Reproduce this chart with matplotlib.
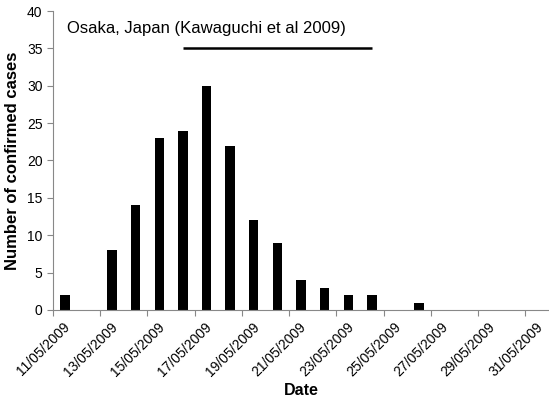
import numpy as np
import matplotlib
matplotlib.use("Agg")
import matplotlib.pyplot as plt
import matplotlib.transforms as mtransforms

plt.rcParams['font.family'] = ['Liberation Sans', 'DejaVu Sans']

# one bar per day, 11/05/2009 .. 31/05/2009
days = ["%02d/05/2009" % d for d in range(11, 32)]
cases = [2, 0, 8, 14, 23, 24, 30, 22, 12, 9, 4, 3, 2, 2, 0, 1, 0, 0, 0, 0, 0]
tick_labels = days[::2]
line_start, line_end, line_level = "16/05/2009", "24/05/2009", 35
title = "Osaka, Japan (Kawaguchi et al 2009)"

fig = plt.figure(figsize=(5.49, 4.03), dpi=100)
ax = fig.add_axes([0.0965, 0.2308, 0.9035, 0.7419])

x = np.arange(len(days)) + 0.5
ax.bar(x, cases, width=0.4, color="black")

i0 = days.index(line_start) + 0.5
i1 = days.index(line_end) + 0.5
ax.plot([i0, i1], [line_level, line_level], color="black", lw=1.8, solid_capstyle="butt")

ax.set_xlim(0, len(days))
ax.set_ylim(0, 40)
ax.set_yticks(range(0, 41, 5))
ax.set_xticks(np.arange(0, len(days), 2))
ax.set_xticklabels(tick_labels, rotation=45, ha="right", rotation_mode="anchor")

for s in ["top", "right"]:
    ax.spines[s].set_visible(False)
for s in ["left", "bottom"]:
    ax.spines[s].set_color("#888888")
ax.tick_params(axis="both", colors="#888888", labelcolor="black", labelsize=10, length=4)
ax.tick_params(axis="x", pad=3)

# excel-like placement: labels end a bit right of the tick
shift = mtransforms.ScaledTranslation(0.1, 0, fig.dpi_scale_trans)
for lab in ax.get_xticklabels():
    lab.set_transform(lab.get_transform() + shift)

ax.text(0.6, 37.6, title, fontsize=12, va="center", ha="left")
ax.set_ylabel("Number of confirmed cases", fontsize=12, fontweight="bold", labelpad=5)
ax.set_xlabel("Date", fontsize=11.5, fontweight="bold", labelpad=3)

fig.savefig("out.png", dpi=100)
